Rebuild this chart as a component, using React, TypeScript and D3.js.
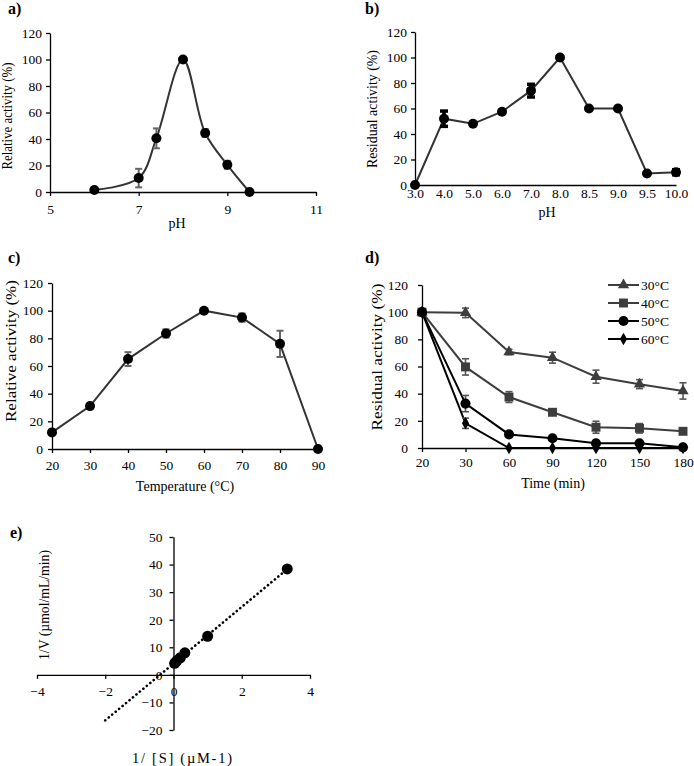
import * as d3 from "d3";
import { useEffect, useRef } from "react";

const W = 694;
const H = 766;
const FONT = "'Liberation Serif', 'Times New Roman', serif";

// a) optimum pH
const phA = [6, 7, 7.4, 8, 8.5, 9, 9.5];
const relActA = [1.5, 10.5, 40.5, 100, 44.5, 20.5, 0];
const errA = [0, 7, 7.5, 0, 3, 3, 0];

// b) pH stability
const phB = ["3.0", "4.0", "5.0", "6.0", "7.0", "8.0", "8.5", "9.0", "9.5", "10.0"];
const resActB = [0, 52, 48, 57.5, 74, 100, 60, 60, 9, 10];
const errB = [0, 6, 0, 0, 5, 0, 0, 0, 0, 2];

// c) optimum temperature
const tempC = [20, 30, 40, 50, 60, 70, 80, 90];
const relActC = [12, 31, 65, 83.5, 100, 95, 76, 0];
const errC = [0, 0, 5, 3, 0, 3, 9.5, 0];

// d) thermal stability
const timeD = ["20", "30", "60", "90", "120", "150", "180"];
const tempLabelsD = ["30°C", "40°C", "50°C", "60°C"];
const act30 = [100, 99.5, 70.7, 66.5, 52.5, 47, 42];
const err30 = [0, 3.5, 2, 4, 4.8, 3.3, 6];
const act40 = [100, 59.7, 37.5, 26.3, 15.3, 14.5, 12.3];
const err40 = [0, 6, 4, 2, 4.4, 3.5, 0];
const act50 = [100, 32.7, 10, 7.2, 3.5, 3.5, 0.5];
const err50 = [0, 6, 0, 0, 0, 0, 0];
const act60 = [100, 18.2, 0, 0, 0, 0, 0];
const err60 = [0, 3.8, 0, 0, 0, 0, 0];

// e) Lineweaver-Burk
const invS = [0.033, 0.067, 0.1, 0.2, 0.333, 1, 3.333];
const invV = [4.2, 4.6, 5.2, 6.2, 8.0, 14.0, 38.4];

const yTicks120 = [0, 20, 40, 60, 80, 100, 120];

function styleAxis(g, fontSize = 13.5) {
	g.attr("font-family", FONT).attr("font-size", fontSize);
	g.selectAll("path, line").attr("stroke", "#000").attr("stroke-width", 1.3);
	g.selectAll("text")
		.attr("fill", "#000")
		.style("font-family", FONT)
		.style("font-size", `${fontSize}px`);
}

function yAxis(svg, y, x0, ticks, pad) {
	const g = svg.append("g")
		.attr("transform", `translate(${x0},0)`)
		.call(d3.axisLeft(y).tickValues(ticks).tickSize(4).tickSizeOuter(0).tickPadding(pad).tickFormat(d3.format("d")));
	styleAxis(g);
	return g;
}

function xAxis(svg, x, y0, ticks, tick, pad, fmt) {
	let ax = d3.axisBottom(x).tickSize(tick).tickSizeOuter(0).tickPadding(pad);
	if (ticks) ax = ax.tickValues(ticks);
	if (fmt) ax = ax.tickFormat(fmt);
	const g = svg.append("g").attr("transform", `translate(0,${y0})`).call(ax);
	styleAxis(g);
	return g;
}

function label(svg, text, x, y, opts = {}) {
	const t = svg.append("text")
		.attr("x", x)
		.attr("y", y)
		.attr("text-anchor", opts.anchor || "middle")
		.style("font-family", FONT)
		.style("font-size", `${opts.size || 14}px`)
		.style("font-weight", opts.bold ? "bold" : "normal")
		.text(text);
	if (opts.rotate) t.attr("transform", `rotate(-90,${x},${y})`);
	if (opts.length) t.attr("textLength", opts.length).attr("lengthAdjust", opts.adjust || "spacingAndGlyphs");
	return t;
}

function errorBars(svg, xs, ys, errs, x, y, color, width, cap) {
	xs.forEach((xv, i) => {
		if (!errs[i]) return;
		const cx = x(xv);
		const top = y(ys[i] + errs[i]);
		const bot = y(ys[i] - errs[i]);
		const g = svg.append("g").attr("stroke", color).attr("stroke-width", width);
		g.append("line").attr("x1", cx).attr("x2", cx).attr("y1", top).attr("y2", bot);
		g.append("line").attr("x1", cx - cap).attr("x2", cx + cap).attr("y1", top).attr("y2", top);
		g.append("line").attr("x1", cx - cap).attr("x2", cx + cap).attr("y1", bot).attr("y2", bot);
	});
}

function dots(svg, xs, ys, x, y, r, fill = "#000") {
	svg.append("g")
		.selectAll("circle")
		.data(xs)
		.join("circle")
		.attr("cx", d => x(d))
		.attr("cy", (d, i) => y(ys[i]))
		.attr("r", r)
		.attr("fill", fill);
}

function linePath(svg, xs, ys, x, y, color, width, curve = d3.curveLinear) {
	const line = d3.line().x(d => x(d[0])).y(d => y(d[1])).curve(curve);
	svg.append("path")
		.datum(xs.map((d, i) => [d, ys[i]]))
		.attr("d", line)
		.attr("fill", "none")
		.attr("stroke", color)
		.attr("stroke-width", width);
}

const App = () => {
	const ref = useRef(null);

	useEffect(() => {
		const svg = d3.select(ref.current);
		svg.selectAll("*").remove();

		// ---------- a)
		{
			const x = d3.scaleLinear().domain([5, 11]).range([50, 316]);
			const y = d3.scaleLinear().domain([0, 120]).range([192, 33]);
			xAxis(svg, x, 192, [5, 7, 9, 11], 4, 8, d3.format("d"));
			yAxis(svg, y, 50, yTicks120, 4);
			linePath(svg, phA, relActA, x, y, "#333", 2, d3.curveCatmullRom.alpha(0.5));
			errorBars(svg, phA, relActA, errA, x, y, "#666", 2, 3.5);
			dots(svg, phA, relActA, x, y, 5);
			label(svg, "a)", 8, 14, { anchor: "start", size: 16, bold: true });
			label(svg, "Relative activity  (%)", 12, 116, { rotate: true, length: 107 });
			label(svg, "pH", 177, 228);
		}

		// ---------- b)
		{
			const x = d3.scalePoint().domain(phB).range([415, 676]);
			const y = d3.scaleLinear().domain([0, 120]).range([185, 32]);
			xAxis(svg, x, 185, null, 0, 3);
			yAxis(svg, y, 415, yTicks120, 4);
			linePath(svg, phB, resActB, x, y, "#333", 2);
			errorBars(svg, phB, resActB, errB, x, y, "#000", 3.5, 4);
			dots(svg, phB, resActB, x, y, 5);
			label(svg, "b)", 365, 14, { anchor: "start", size: 16, bold: true });
			label(svg, "Residual activity (%)", 377, 109, { rotate: true, length: 118 });
			label(svg, "pH", 547, 217);
		}

		// ---------- c)
		{
			const x = d3.scaleLinear().domain([20, 90]).range([52, 318]);
			const y = d3.scaleLinear().domain([0, 120]).range([449, 283]);
			xAxis(svg, x, 449, tempC, 4, 7, d3.format("d"));
			yAxis(svg, y, 52, yTicks120, 5);
			linePath(svg, tempC, relActC, x, y, "#333", 2);
			errorBars(svg, tempC, relActC, errC, x, y, "#666", 2, 3.5);
			dots(svg, tempC, relActC, x, y, 5);
			label(svg, "c)", 8, 263, { anchor: "start", size: 16, bold: true });
			label(svg, "Relative activity (%)", 16, 351, { rotate: true, length: 142 });
			label(svg, "Temperature (°C)", 185, 491);
		}

		// ---------- d)
		{
			const x = d3.scalePoint().domain(timeD).range([422, 683]);
			const y = d3.scaleLinear().domain([0, 120]).range([448, 285]);
			xAxis(svg, x, 448, null, 4, 5);
			yAxis(svg, y, 422, yTicks120, 10);
			const series = [
				{ vals: act30, errs: err30, color: "#3d3d3d", sym: d3.symbolTriangle, size: 55 },
				{ vals: act40, errs: err40, color: "#3d3d3d", sym: d3.symbolSquare, size: 80 },
				{ vals: act50, errs: err50, color: "#000", sym: d3.symbolCircle, size: 80 },
				{ vals: act60, errs: err60, color: "#000", sym: d3.symbolDiamond, size: 45 }
			];
			series.forEach(s => {
				linePath(svg, timeD, s.vals, x, y, s.color, 2);
				errorBars(svg, timeD, s.vals, s.errs, x, y, "#555", 1.6, 3.5);
			});
			series.forEach(s => {
				svg.append("g")
					.selectAll("path")
					.data(timeD)
					.join("path")
					.attr("d", d3.symbol().type(s.sym).size(s.size))
					.attr("transform", (d, i) => `translate(${x(d)},${y(s.vals[i])})`)
					.attr("fill", s.color);
			});
			// legend
			series.forEach((s, i) => {
				const ly = 285 + i * 18;
				svg.append("line")
					.attr("x1", 608).attr("x2", 639).attr("y1", ly).attr("y2", ly)
					.attr("stroke", s.color).attr("stroke-width", 2);
				svg.append("path")
					.attr("d", d3.symbol().type(s.sym).size(s.size))
					.attr("transform", `translate(623.5,${ly})`)
					.attr("fill", s.color);
				label(svg, tempLabelsD[i], 641, ly + 5, { anchor: "start", size: 13.5 });
			});
			label(svg, "d)", 365, 263, { anchor: "start", size: 16, bold: true });
			label(svg, "Residual activity (%)", 382, 357, { rotate: true, length: 147 });
			label(svg, "Time (min)", 553, 488);
		}

		// ---------- e)
		{
			const x = d3.scaleLinear().domain([-4, 4]).range([37, 310]);
			const y = d3.scaleLinear().domain([-20, 50]).range([730, 537]);
			xAxis(svg, x, y(0), [-4, -2, 0, 2, 4], 4, 8, d3.format("d"));
			yAxis(svg, y, x(0), d3.range(-20, 51, 10), 7);

			// least squares trendline, forecast backward by 2
			const mx = d3.mean(invS);
			const my = d3.mean(invV);
			const slope = d3.sum(invS, (d, i) => (d - mx) * (invV[i] - my)) / d3.sum(invS, d => (d - mx) ** 2);
			const icpt = my - slope * mx;
			const tx = [-2, d3.max(invS)];
			svg.append("line")
				.attr("x1", x(tx[0])).attr("y1", y(icpt + slope * tx[0]))
				.attr("x2", x(tx[1])).attr("y2", y(icpt + slope * tx[1]))
				.attr("stroke", "#000")
				.attr("stroke-width", 2.6)
				.attr("stroke-linecap", "round")
				.attr("stroke-dasharray", "0.1 4.4");
			dots(svg, invS, invV, x, y, 5.5);
			label(svg, "e)", 10, 538, { anchor: "start", size: 16, bold: true });
			label(svg, "1/V (µmol/mL/min)", 49, 605, { rotate: true, length: 110 });
			label(svg, "1/ [S] (µM-1)", 182, 763, { length: 100, adjust: "spacing", size: 14.5 });
		}
	}, []);

	return (
		<svg ref={ref} width={W} height={H} style={{ position: "absolute", left: 0, top: 0, background: "#fff" }} />
	);
};

export default App;
